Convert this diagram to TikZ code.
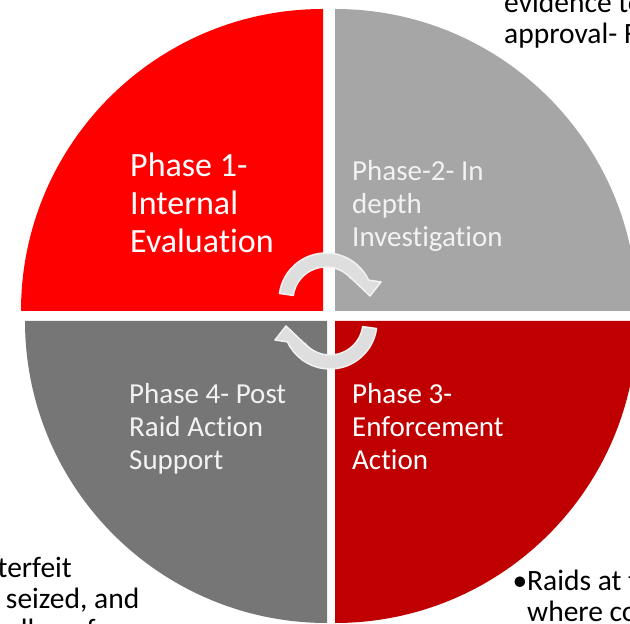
\documentclass[tikz,border=0pt]{standalone}
\usepackage{fontspec}
\setmainfont{Carlito}[Ligatures=NoCommon]
\usepackage{tikz}
\definecolor{phaseA}{RGB}{255,0,0}
\definecolor{phaseB}{RGB}{166,166,166}
\definecolor{phaseC}{RGB}{192,0,0}
\definecolor{phaseD}{RGB}{118,118,118}
\definecolor{offwhite}{RGB}{242,242,242}
\definecolor{cyclefill}{RGB}{222,222,222}

\begin{document}
\begin{tikzpicture}[x=1pt,y=1pt,
    phasetext/.style={anchor=north west,inner sep=0pt,align=left,font=\fontsize{29}{33}\selectfont},
    sidetext/.style={anchor=north west,inner sep=0pt,align=left,font=\fontsize{29.5}{31}\selectfont},
    cyclearrow/.style={fill=cyclefill,draw=offwhite,line width=1.5pt,line join=round}]
    \useasboundingbox (0,0) rectangle (630,624);
    \clip (0,0) rectangle (630,624);
    % the four quarters
    \fill[phaseA] (323,313) -- ++(-302,0) arc[start angle=180,end angle=90,radius=302] -- cycle;
    \fill[phaseB] (335,313) -- ++(0,302) arc[start angle=90,end angle=0,radius=302] -- cycle;
    \fill[phaseC] (335,303) -- ++(302,0) arc[start angle=0,end angle=-90,radius=302] -- cycle;
    \fill[phaseD] (327,303) -- ++(0,-302) arc[start angle=-90,end angle=-180,radius=302] -- cycle;
    % cycle arrows in the middle
    \filldraw[cyclearrow] ([shift={(172:47)}]326,324) arc[start angle=172,end angle=25,radius=47]
      -- (381,342) -- (370,328) -- (349,348) -- ([shift={(40:33)}]326,324)
      arc[start angle=40,end angle=172,radius=33] -- cycle;
    \begin{scope}[rotate around={180:(328,313)}]
      \filldraw[cyclearrow] ([shift={(172:47)}]326,324) arc[start angle=172,end angle=25,radius=47]
        -- (381,342) -- (370,328) -- (349,348) -- ([shift={(40:33)}]326,324)
        arc[start angle=40,end angle=172,radius=33] -- cycle;
    \end{scope}
    % phase labels
    \node[phasetext,text=white,font=\fontsize{34}{38}\selectfont] (phase1) at (130,471)
      {Phase 1-\\Internal\\Evaluation};
    \node[phasetext,text=offwhite] (phase2) at (352,463.5) {Phase-2- In\\depth\\Investigation};
    \node[phasetext,text=white] (phase3) at (352,240.5) {Phase 3-\\Enforcement\\Action};
    \node[phasetext,text=offwhite] (phase4) at (129,240.5) {Phase 4- Post\\Raid Action\\Support};
    % side notes
    \node[sidetext] (noteB) at (504,632.3) {evidence to\\approval- F};
    \node[sidetext] (noteD) at (-61,67.3) {counterfeit\\were seized, and\\since all are for};
    \node[sidetext] (noteC) at (527,54.4) {\llap{•}Raids at the\\where counterfeit};
\end{tikzpicture}
\end{document}
